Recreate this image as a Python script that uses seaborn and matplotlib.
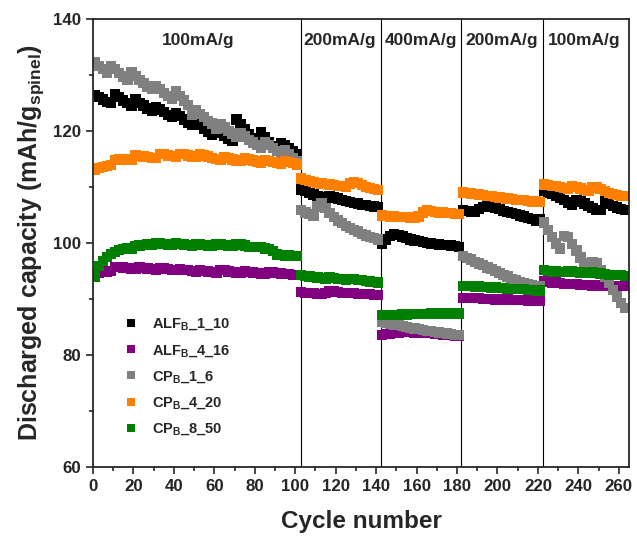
import numpy as np
import pandas as pd
import seaborn as sns
import matplotlib.pyplot as plt

# cycle numbers (every second cycle) for the five current steps
cycles = np.arange(1, 264, 2)

# values, one list per segment
alf_1_10 = [
    # 100 mA/g
    126.4, 126.0, 125.6, 125.2, 124.9, 126.6, 126.0, 125.4, 124.9, 124.5,
    125.6, 125.0, 124.5, 124.0, 123.6, 124.3, 123.8, 123.3, 122.8, 122.4,
    123.2, 122.6, 122.0, 121.5, 121.0, 121.6, 121.0, 120.4, 119.8, 119.3,
    120.3, 119.7, 119.1, 118.6, 118.2, 122.0, 121.2, 120.3, 119.4, 118.6,
    118.0, 119.8, 118.8, 118.0, 117.3, 116.8, 117.8, 117.5, 116.9, 116.4,
    115.9,
    # 200 mA/g
    109.5, 109.2, 108.9, 108.6, 108.3, 108.1, 107.9, 108.3, 108.1, 107.9,
    107.7, 107.5, 107.3, 107.1, 107.0, 106.8, 106.7, 106.6, 106.5, 106.4,
    # 400 mA/g
    99.8, 100.6, 101.2, 101.5, 101.4, 101.1, 100.8, 100.6, 100.4, 100.3,
    100.1, 100.0, 99.9, 99.8, 99.7, 99.6, 99.6, 99.5, 99.4, 99.3,
    # 200 mA/g
    105.8, 105.7, 105.6, 105.5, 106.0, 106.4, 106.6, 106.5, 106.3, 106.0,
    105.7, 105.5, 105.3, 105.1, 104.9, 104.7, 104.4, 104.2, 104.0, 104.3,
    # 100 mA/g
    109.2, 109.0, 108.7, 108.3, 108.0, 107.6, 107.2, 106.8, 107.7, 107.4,
    107.0, 106.6, 106.2, 105.9, 105.8, 107.4, 107.0, 106.6, 106.3, 106.0,
    105.8,
]

alf_4_16 = [
    94.6, 94.7, 94.8, 94.9, 95.0, 95.7, 95.7, 95.6, 95.5, 95.4,
    95.3, 95.6, 95.5, 95.4, 95.3, 95.2, 95.5, 95.4, 95.3, 95.2,
    95.1, 95.3, 95.2, 95.1, 95.0, 94.9, 95.1, 95.0, 94.9, 94.8,
    94.7, 95.2, 95.1, 94.9, 94.8, 94.7, 94.6, 94.9, 94.8, 94.7,
    94.6, 94.5, 94.4, 94.8, 94.7, 94.6, 94.5, 94.4, 94.4, 94.3,
    94.3,
    91.2, 91.1, 91.0, 91.0, 90.9, 90.9, 91.0, 91.4, 91.3, 91.2,
    91.1, 91.1, 91.0, 91.0, 90.9, 90.9, 90.8, 90.8, 90.7, 90.7,
    83.5, 83.7, 83.8, 83.9, 84.0, 84.1, 84.1, 84.1, 84.0, 84.0,
    84.0, 83.9, 83.9, 83.8, 83.7, 83.6, 83.5, 83.5, 83.4, 83.3,
    90.2, 90.2, 90.1, 90.1, 90.1, 90.0, 90.0, 90.0, 89.9, 89.9,
    89.9, 89.9, 89.8, 89.8, 89.8, 89.8, 89.7, 89.7, 89.7, 89.7,
    93.1, 93.0, 92.9, 92.9, 92.8, 92.7, 92.7, 92.6, 92.6, 92.5,
    92.5, 92.5, 92.4, 92.4, 92.4, 92.4, 92.3, 92.3, 92.3, 92.3,
    92.3,
]

cp_1_6 = [
    132.3, 131.6, 131.0, 130.4, 131.6, 131.0, 130.3, 129.7, 129.1, 130.5,
    129.8, 129.1, 128.5, 127.9, 127.4, 128.0, 127.4, 126.8, 126.2, 125.7,
    127.0, 126.2, 125.4, 124.6, 122.8, 123.6, 123.0, 122.4, 121.8, 121.3,
    120.4, 121.2, 120.6, 120.0, 119.5, 119.0, 119.6, 119.0, 118.4, 117.9,
    117.4, 117.0, 118.0, 117.4, 116.9, 116.4, 116.0, 116.5, 115.8, 115.2,
    114.6,
    105.8, 105.4, 105.1, 104.9, 106.5, 107.0, 106.2, 105.3, 104.6, 104.0,
    103.5, 103.0, 102.6, 102.3, 102.0, 101.6, 101.3, 101.0, 100.8, 100.6,
    85.9, 85.7, 85.6, 85.4, 85.3, 85.1, 85.0, 84.8, 84.7, 84.6,
    84.4, 84.3, 84.2, 84.1, 84.0, 83.9, 83.8, 83.7, 83.6, 83.5,
    97.7, 97.3, 97.0, 96.6, 96.3, 96.0, 95.6, 95.3, 95.0, 94.6,
    94.3, 94.0, 93.6, 93.3, 93.0, 92.8, 92.6, 92.4, 92.3, 92.2,
    103.6, 102.3, 101.0, 99.9, 99.0, 101.2, 101.0, 99.8, 98.6, 97.4,
    96.3, 95.4, 96.6, 96.3, 95.2, 94.0, 92.8, 91.6, 90.4, 89.3,
    88.3,
]

cp_4_20 = [
    113.1, 113.3, 113.5, 113.7, 113.9, 114.8, 114.9, 115.0, 114.9, 114.8,
    115.6, 115.5, 115.4, 115.3, 115.2, 115.2, 115.9, 115.8, 115.6, 115.5,
    115.4, 115.9, 115.8, 115.6, 115.4, 115.3, 115.8, 115.6, 115.4, 115.2,
    115.0, 114.9, 115.3, 115.1, 114.9, 114.7, 114.6, 115.1, 114.9, 114.7,
    114.5, 114.3, 114.8, 114.6, 114.4, 114.2, 114.1, 114.6, 114.4, 114.2,
    114.0,
    111.5, 111.2, 111.0, 110.8, 110.7, 110.6, 110.5, 110.4, 110.3, 110.2,
    110.1, 110.0, 110.6, 110.9, 110.7, 110.3, 110.0, 109.8, 109.6, 109.4,
    104.9, 104.8, 104.7, 104.7, 104.6, 104.6, 104.6, 104.5, 104.5, 104.7,
    105.4, 105.8, 105.7, 105.5, 105.4, 105.4, 105.3, 105.3, 105.2, 105.1,
    109.0, 108.9, 108.8, 108.7, 108.6, 108.5, 108.4, 108.3, 108.2, 108.1,
    108.0, 107.9, 107.8, 107.7, 107.7, 107.6, 107.5, 107.4, 107.4, 107.3,
    110.4, 110.3, 110.2, 110.1, 110.0, 109.8, 109.6, 110.2, 110.0, 109.7,
    109.4, 109.2, 109.9, 110.0, 109.6, 109.2, 108.9, 108.7, 108.5, 108.4,
    108.3,
]

cp_8_50 = [
    94.0, 95.8, 96.8, 97.5, 98.0, 98.4, 98.7, 98.9, 99.1, 99.0,
    99.4, 99.5, 99.6, 99.7, 99.7, 99.9, 99.9, 99.8, 99.7, 99.6,
    99.9, 99.8, 99.7, 99.6, 99.5, 99.8, 99.7, 99.6, 99.5, 99.4,
    99.7, 99.7, 99.6, 99.5, 99.4, 99.8, 99.7, 99.5, 99.3, 99.2,
    99.3, 99.2, 99.0, 98.9, 98.5, 97.9, 97.8, 97.7, 97.8, 97.7,
    97.6,
    94.3, 94.1, 94.0, 93.9, 93.8, 93.7, 93.6, 93.8, 93.7, 93.6,
    93.5, 93.4, 93.6, 93.5, 93.4, 93.3, 93.2, 93.1, 93.0, 92.9,
    87.1, 87.1, 87.1, 87.1, 87.1, 87.2, 87.2, 87.3, 87.3, 87.3,
    87.3, 87.3, 87.4, 87.4, 87.4, 87.4, 87.4, 87.4, 87.4, 87.4,
    92.3, 92.3, 92.3, 92.2, 92.2, 92.1, 92.1, 92.0, 92.0, 91.9,
    91.9, 91.8, 91.8, 91.7, 91.7, 91.7, 91.6, 91.6, 91.5, 91.5,
    95.1, 95.0, 94.9, 94.9, 94.8, 94.8, 95.0, 94.9, 94.8, 94.7,
    94.6, 94.6, 94.7, 94.6, 94.5, 94.4, 94.3, 94.3, 94.2, 94.2,
    94.1,
]

labels = [r'ALF$_\mathrm{B}$_1_10', r'ALF$_\mathrm{B}$_4_16', r'CP$_\mathrm{B}$_1_6',
          r'CP$_\mathrm{B}$_4_20', r'CP$_\mathrm{B}$_8_50']
colors = ['#000000', '#800080', '#808080', '#FF8000', '#008000']
rates = ['100mA/g', '200mA/g', '400mA/g', '200mA/g', '100mA/g']
rate_x = [52, 122, 162, 202, 243]
rate_edges = [102.7, 142.2, 182.2, 222.5]

frames = []
for lab, vals in zip(labels, [alf_1_10, alf_4_16, cp_1_6, cp_4_20, cp_8_50]):
    frames.append(pd.DataFrame({'cycle': cycles, 'cap': vals, 'sample': lab}))
df = pd.concat(frames, ignore_index=True)

sns.set_style('ticks')
plt.rcParams['font.family'] = ['Liberation Sans', 'DejaVu Sans']
plt.rcParams['font.weight'] = 'bold'
plt.rcParams['mathtext.fontset'] = 'custom'
plt.rcParams['mathtext.rm'] = 'Liberation Sans:bold'
plt.rcParams['mathtext.it'] = 'Liberation Sans:bold'
plt.rcParams['mathtext.bf'] = 'Liberation Sans:bold'

fig = plt.figure(figsize=(6.37, 5.36), dpi=100)
ax = fig.add_axes([0.146, 0.129, 0.842, 0.836])

sns.scatterplot(data=df, x='cycle', y='cap', hue='sample', palette=colors,
                marker='s', s=55, linewidth=0, ax=ax, legend=True)

for xe in rate_edges:
    ax.axvline(xe, color='k', lw=0.8, zorder=0)
for xt, txt in zip(rate_x, rates):
    ax.text(xt, 136.2, txt, ha='center', va='center', fontsize=12.5, fontweight='bold')

ax.set_xlim(0, 265.2)
ax.set_ylim(60, 140)
ax.set_xticks(np.arange(0, 261, 20))
ax.set_xticks(np.arange(10, 261, 20), minor=True)
ax.set_yticks([60, 80, 100, 120, 140])
ax.set_yticks([70, 90, 110, 130], minor=True)
ax.tick_params(which='both', labelsize=12.2, width=1.2, direction='out', top=False, right=False)
ax.tick_params(which='major', length=5)
ax.tick_params(which='minor', length=3)
for sp in ax.spines.values():
    sp.set_linewidth(1.3)
    sp.set_visible(True)
for lbl in ax.get_xticklabels() + ax.get_yticklabels():
    lbl.set_fontweight('bold')

ax.set_xlabel('Cycle number', fontsize=17.5, fontweight='bold', labelpad=12)
ax.set_ylabel(r'Discharged capacity (mAh/g$_\mathrm{spinel}$)', fontsize=18,
              fontweight='bold', labelpad=5)

handles, hl = ax.get_legend_handles_labels()
leg = ax.legend(handles, hl, loc='upper left', bbox_to_anchor=(0.02, 0.365),
                frameon=False, fontsize=10.5, handletextpad=0.4, labelspacing=0.72,
                markerscale=0.85)
for t in leg.get_texts():
    t.set_fontweight('bold')

fig.savefig('out.png', dpi=100)
